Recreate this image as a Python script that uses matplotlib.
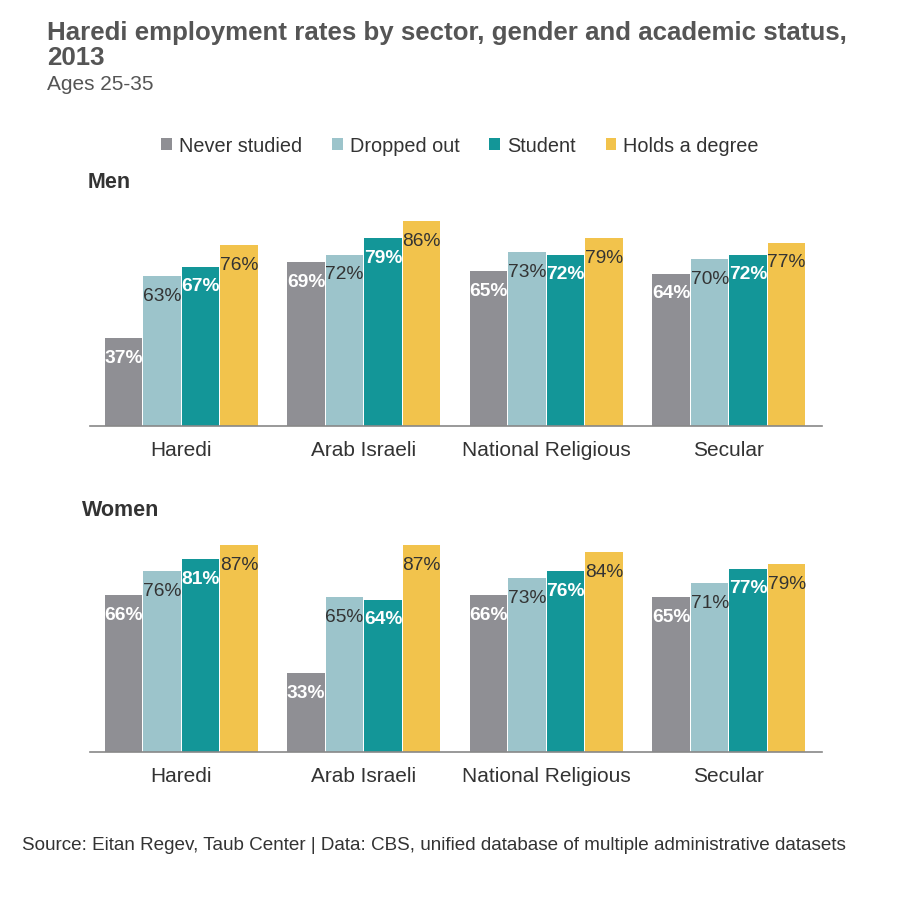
import numpy as np
import matplotlib
matplotlib.use("Agg")
import matplotlib.pyplot as plt

plt.rcParams['font.family'] = ['Liberation Sans', 'DejaVu Sans']

sectors = ["Haredi", "Arab Israeli", "National Religious", "Secular"]
statuses = ["Never studied", "Dropped out", "Student", "Holds a degree"]

# employment rate (%) per status, one value per sector
men = {
    "Never studied": [37, 69, 65, 64],
    "Dropped out": [63, 72, 73, 70],
    "Student": [67, 79, 72, 72],
    "Holds a degree": [76, 86, 79, 77],
}
women = {
    "Never studied": [66, 33, 66, 65],
    "Dropped out": [76, 65, 73, 71],
    "Student": [81, 64, 76, 77],
    "Holds a degree": [87, 87, 84, 79],
}

colors = ["#8f8f94", "#9cc4cb", "#139698", "#f2c34c"]
label_colors = ["white", "#333333", "white", "#333333"]
label_weights = ["bold", "normal", "bold", "normal"]

fig = plt.figure(figsize=(9, 9.16), dpi=100)

W, H = 900, 916
def axes_at(bottom_px):
    # axes spanning the bar area; 100% = 238 px
    return fig.add_axes([90 / W, 1 - bottom_px / H, 732 / W, 238 / H])

ax_men = axes_at(426)
ax_women = axes_at(752)

width = 0.205
step = 0.211
x = np.arange(len(sectors))

handles = []
for ax, data in [(ax_men, men), (ax_women, women)]:
    for i, s in enumerate(statuses):
        pos = x + (i - 1.5) * step
        bars = ax.bar(pos, data[s], width=width, color=colors[i], label=s)
        if ax is ax_men:
            handles.append(bars)
        for p, v in zip(pos, data[s]):
            ax.text(p, v - 8.5, f"{v}%", ha="center", va="center",
                    fontsize=13.8, color=label_colors[i],
                    fontweight=label_weights[i])
    ax.set_xlim(-0.5, 3.51)
    ax.set_ylim(0, 100)
    ax.set_xticks(x)
    ax.set_xticklabels(sectors, fontsize=15, color="#333333")
    ax.tick_params(axis="x", length=0, pad=11)
    ax.set_yticks([])
    for sp in ["top", "right", "left"]:
        ax.spines[sp].set_visible(False)
    ax.spines["bottom"].set_color("#888888")
    ax.spines["bottom"].set_linewidth(1.2)

fig.text(47 / W, 1 - 33 / H, "Haredi employment rates by sector, gender and academic status,",
         fontsize=18.6, fontweight="bold", color="#555555", va="center", ha="left")
fig.text(47 / W, 1 - 58 / H, "2013",
         fontsize=18.6, fontweight="bold", color="#555555", va="center", ha="left")
fig.text(47 / W, 1 - 84 / H, "Ages 25-35", fontsize=15, color="#555555",
         va="center", ha="left")

fig.text(88 / W, 1 - 182 / H, "Men", fontsize=15.5, fontweight="bold",
         color="#333333", va="center", ha="left")
fig.text(82 / W, 1 - 511 / H, "Women", fontsize=15.5, fontweight="bold",
         color="#333333", va="center", ha="left")

fig.legend(handles=handles, labels=statuses, loc="center",
           bbox_to_anchor=(460 / W, 1 - 146 / H), ncol=4, frameon=False,
           handlelength=0.55, handleheight=0.55, handletextpad=0.35,
           columnspacing=1.5, fontsize=14.3, labelcolor="#333333")

fig.text(22 / W, 1 - 846 / H,
         "Source: Eitan Regev, Taub Center | Data: CBS, unified database of multiple administrative datasets",
         fontsize=13.6, color="#333333", va="center", ha="left")

fig.savefig("out.png", dpi=100, facecolor="white")
